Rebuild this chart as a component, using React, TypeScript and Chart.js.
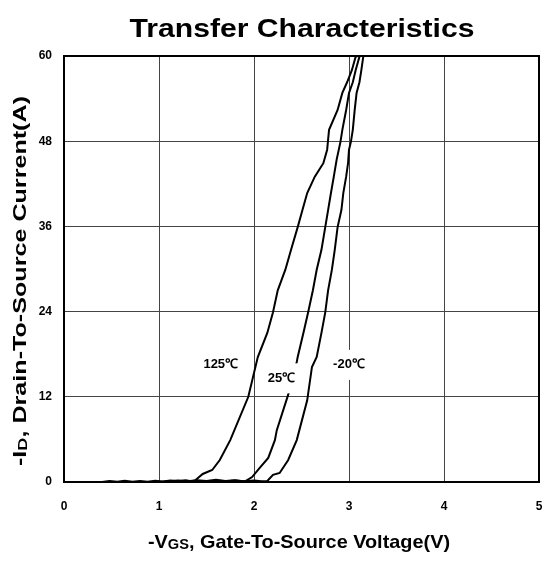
import React, { useEffect, useRef } from 'react';
import { Chart, registerables } from 'chart.js';
Chart.register(...registerables);

const chartTitle = 'Transfer Characteristics';
const xTickValues = [0, 1, 2, 3, 4, 5];
const yTickValues = [0, 12, 24, 36, 48, 60];

const v125 = [0, 0.40, 0.48, 0.56, 0.64, 0.72, 0.80, 0.88, 0.96, 1.04, 1.12, 1.20, 1.28, 1.34, 1.38, 1.41, 1.46, 1.56, 1.64, 1.75, 1.94, 2.04, 2.14, 2.20, 2.25, 2.33, 2.39, 2.46, 2.51, 2.56, 2.64, 2.73, 2.77, 2.79, 2.88, 2.93, 2.98, 3.03, 3.07, 3.09];
const i125 = [0, 0, 0.15, 0.05, 0.18, 0.05, 0.15, 0.05, 0.18, 0.08, 0.2, 0.1, 0.25, 0.1, 0.2, 0.56, 1.13, 1.69, 3.1, 5.9, 12.0, 17.6, 21.0, 23.9, 27.0, 29.9, 32.7, 35.9, 38.3, 40.7, 43.0, 44.9, 46.8, 49.6, 52.4, 54.8, 56.3, 58.0, 59.9, 60];

const v25 = [0, 1.00, 1.10, 1.20, 1.30, 1.40, 1.50, 1.60, 1.70, 1.80, 1.88, 1.91, 1.98, 2.06, 2.15, 2.22, 2.24, 2.36, 2.45, 2.46, 2.52, 2.57, 2.62, 2.66, 2.71, 2.75, 2.78, 2.81, 2.84, 2.87, 2.91, 2.93, 2.97, 3.00, 3.04, 3.07, 3.11, 3.12];
const i25 = [0, 0, 0.1, 0.2, 0.1, 0.25, 0.15, 0.3, 0.15, 0.25, 0.1, 0.14, 0.7, 2.0, 3.4, 5.9, 7.3, 12.3, 16.9, 17.6, 21.0, 23.9, 27.0, 29.9, 32.7, 35.9, 38.3, 40.7, 43.0, 45.4, 47.9, 49.6, 52.4, 54.8, 56.3, 58.0, 59.9, 60];

const vM20 = [0, 1.60, 1.70, 1.80, 1.90, 2.00, 2.08, 2.14, 2.20, 2.27, 2.36, 2.45, 2.56, 2.61, 2.66, 2.71, 2.75, 2.78, 2.82, 2.85, 2.88, 2.92, 2.94, 2.97, 2.99, 3.00, 3.02, 3.04, 3.06, 3.08, 3.11, 3.13, 3.15, 3.16];
const iM20 = [0, 0, 0.1, 0.2, 0.1, 0.2, 0.1, 0.14, 1.0, 1.27, 3.1, 5.9, 11.5, 16.2, 17.6, 21.0, 23.9, 27.0, 29.9, 32.7, 35.9, 38.3, 40.7, 43.0, 44.9, 46.8, 47.9, 49.6, 52.4, 54.8, 56.3, 58.0, 59.9, 60];

const seriesLabels = ['125℃', '25℃', '-20℃'];
const labelV = [1.65, 2.29, 3.0];
const labelI = [16.5, 14.6, 16.5];

const FONT = '"Liberation Sans", Arial, Helvetica, sans-serif';

type Seg = { t: string; s: number; dy?: number };

function drawRich(ctx: CanvasRenderingContext2D, segs: Seg[], cx: number, cy: number, rot: number, targetWidth?: number) {
  ctx.save();
  ctx.translate(cx, cy);
  ctx.rotate(rot);
  ctx.fillStyle = '#000';
  ctx.textBaseline = 'alphabetic';
  ctx.textAlign = 'left';
  let total = 0;
  const widths = segs.map((sg) => {
    ctx.font = `bold ${sg.s}px ${FONT}`;
    const w = ctx.measureText(sg.t).width;
    total += w;
    return w;
  });
  if (targetWidth) ctx.scale(targetWidth / total, 1);
  let x = -total / 2;
  segs.forEach((sg, k) => {
    ctx.font = `bold ${sg.s}px ${FONT}`;
    ctx.fillText(sg.t, x, sg.dy || 0);
    x += widths[k];
  });
  ctx.restore();
}

export default function App() {
  const ref = useRef<HTMLCanvasElement>(null);
  useEffect(() => {
    const mk = (v: number[], i: number[]) => v.map((x, k) => ({ x, y: i[k] }));
    const deco = {
      id: 'deco',
      afterDatasetsDraw(chart: any) {
        const { ctx, scales } = chart;
        ctx.save();
        ctx.font = `bold 13px ${FONT}`;
        ctx.textAlign = 'center';
        ctx.textBaseline = 'middle';
        seriesLabels.forEach((lab, k) => {
          const px = scales.x.getPixelForValue(labelV[k]);
          const py = scales.y.getPixelForValue(labelI[k]);
          const w = ctx.measureText(lab).width;
          ctx.fillStyle = '#fff';
          ctx.fillRect(px - w / 2 - 3, py - 15, w + 6, 30);
          ctx.fillStyle = '#000';
          ctx.fillText(lab, px, py);
        });
        ctx.restore();
      },
      afterDraw(chart: any) {
        const { ctx, chartArea: a } = chart;
        ctx.save();
        ctx.strokeStyle = '#000';
        ctx.lineWidth = 2;
        ctx.strokeRect(a.left, a.top, a.right - a.left, a.bottom - a.top);
        ctx.restore();
        drawRich(ctx, [{ t: chartTitle, s: 25 }], 302, 37, 0, 345);
        drawRich(
          ctx,
          [
            { t: '-V', s: 19 },
            { t: 'GS', s: 14, dy: 1 },
            { t: ', Gate-To-Source Voltage(V)', s: 19 },
          ],
          299,
          548,
          0,
          302
        );
        drawRich(
          ctx,
          [
            { t: '-I', s: 18 },
            { t: 'D', s: 13, dy: 1 },
            { t: ', Drain-To-Source Current(A)', s: 18 },
          ],
          26,
          281,
          -Math.PI / 2,
          370
        );
      },
    };
    const ds = (v: number[], i: number[], label: string) => ({
      label,
      data: mk(v, i),
      borderColor: '#000',
      borderWidth: 2,
      pointRadius: 0,
      tension: 0,
      fill: false,
    });
    const chart = new Chart(ref.current as HTMLCanvasElement, {
      type: 'line',
      data: {
        datasets: [ds(v125, i125, seriesLabels[0]), ds(v25, i25, seriesLabels[1]), ds(vM20, iM20, seriesLabels[2])],
      },
      options: {
        animation: false,
        responsive: false,
        layout: { autoPadding: false, padding: { top: 56, right: 6, left: 0, bottom: 0 } },
        plugins: { legend: { display: false }, tooltip: { enabled: false }, title: { display: false } },
        scales: {
          x: {
            type: 'linear',
            min: 0,
            max: 5,
            afterFit: (s: any) => {
              s.height = 81;
              s.paddingLeft = 0;
              s.paddingRight = 0;
            },
            afterBuildTicks: (s: any) => {
              s.ticks = xTickValues.map((v) => ({ value: v }));
            },
            grid: { color: '#444', lineWidth: 1, drawTicks: false },
            border: { color: '#000', width: 2 },
            ticks: { padding: 17, color: '#000', font: { family: FONT, size: 12, weight: 'bold' }, maxRotation: 0 },
          },
          y: {
            type: 'linear',
            min: 0,
            max: 60,
            afterFit: (s: any) => {
              s.width = 64;
              s.paddingTop = 0;
              s.paddingBottom = 0;
            },
            afterBuildTicks: (s: any) => {
              s.ticks = yTickValues.map((v) => ({ value: v }));
            },
            grid: { color: '#444', lineWidth: 1, drawTicks: false },
            border: { color: '#000', width: 2 },
            ticks: { padding: 12, color: '#000', font: { family: FONT, size: 12, weight: 'bold' } },
          },
        },
      },
      plugins: [deco],
    } as any);
    return () => chart.destroy();
  }, []);
  return (
    <div style={{ position: 'fixed', left: 0, top: 0, width: 545, height: 563, background: '#fff' }}>
      <canvas ref={ref} width={545} height={563} />
    </div>
  );
}
